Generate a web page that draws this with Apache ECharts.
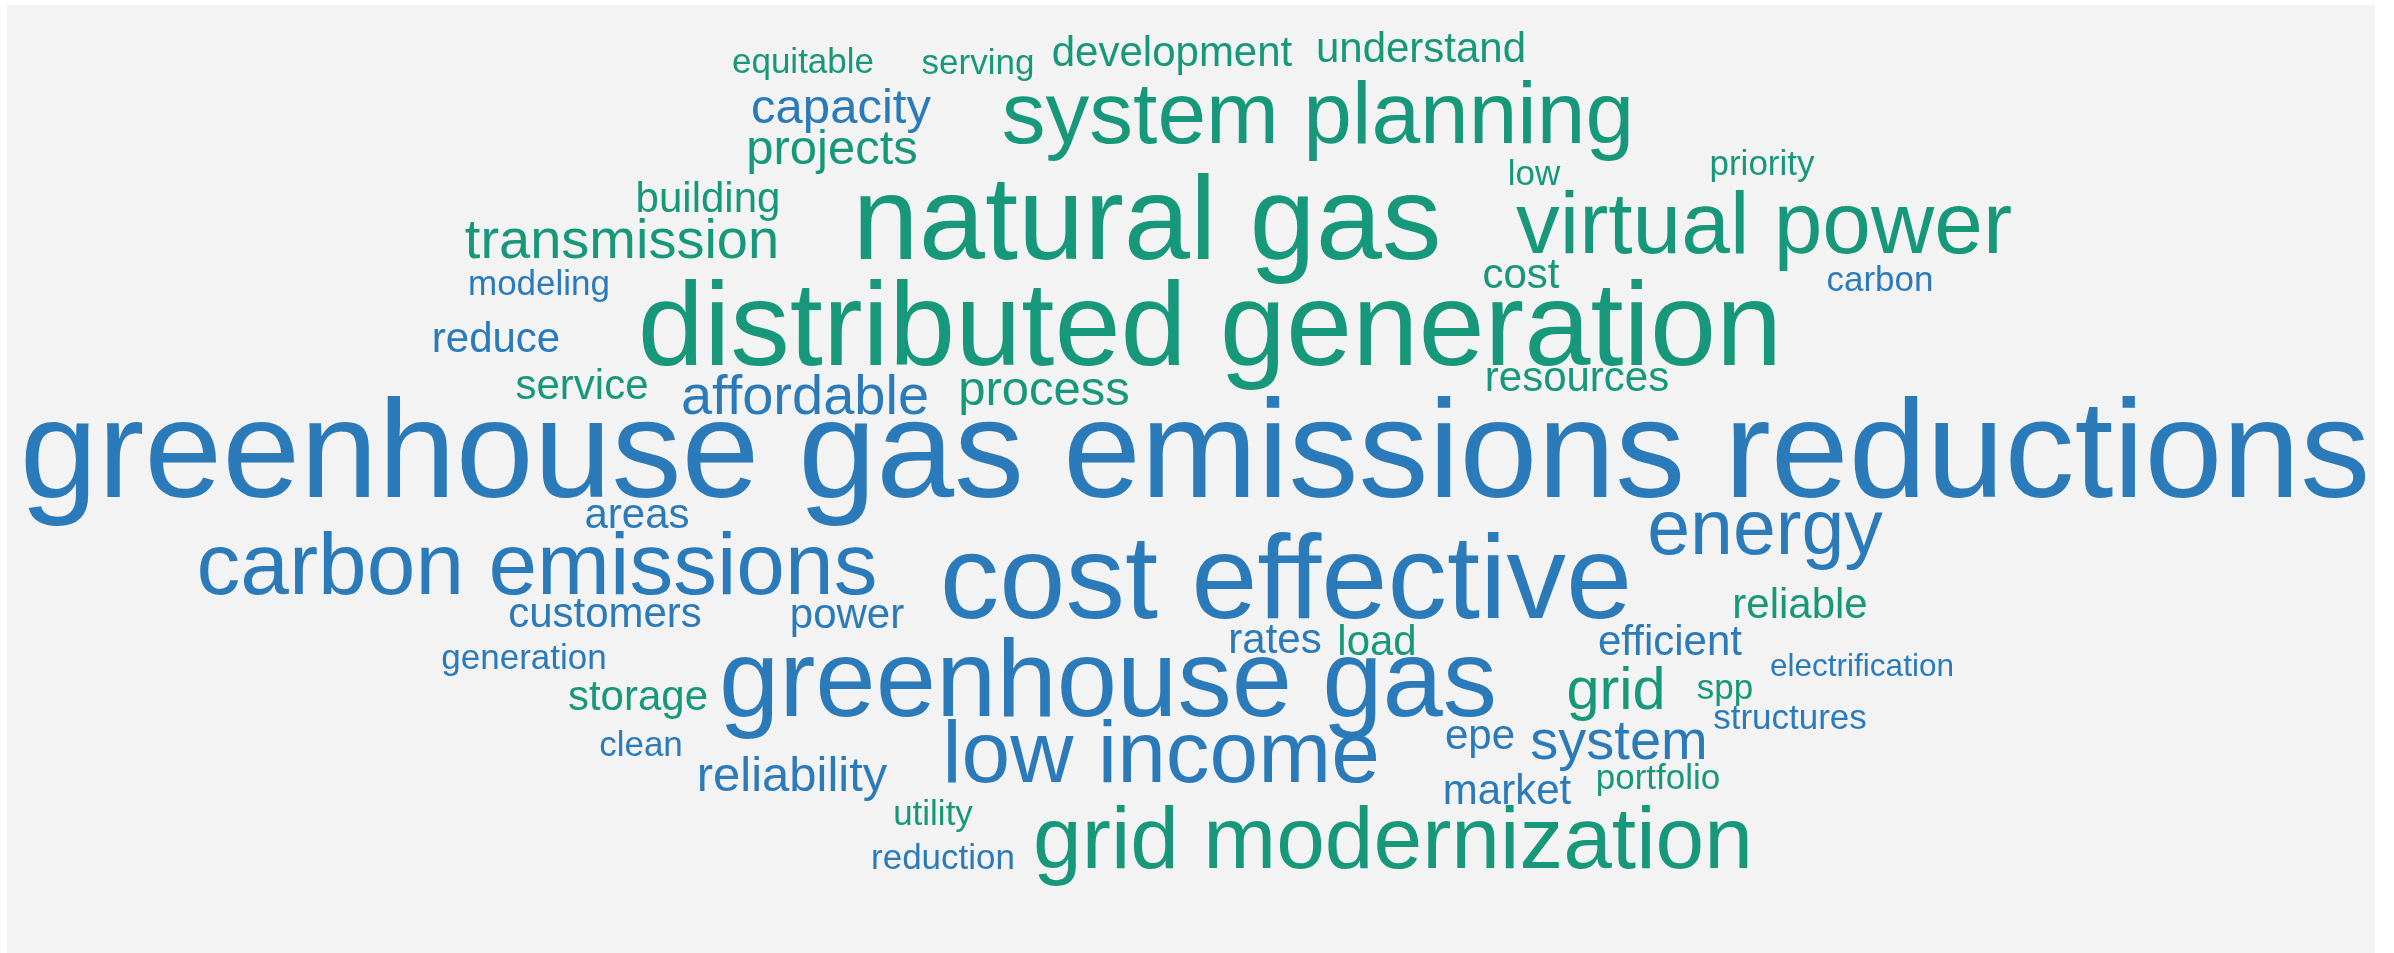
<!DOCTYPE html>
<html>
<head>
<meta charset="utf-8">
<script src="https://cdn.jsdelivr.net/npm/echarts@6/dist/echarts.min.js"></script>
<style>
  html, body { margin: 0; padding: 0; background: #fff; }
  #cloud { width: 2394px; height: 953px; }
</style>
</head>
<body>
<div id="cloud"></div>
<script>
// word cloud terms, their relative frequency and the layout position (x, baseline y)
var words = [
    'equitable', 'serving', 'development', 'understand', 'capacity',
    'projects', 'system planning', 'natural gas', 'low', 'priority',
    'building', 'transmission', 'virtual power', 'modeling', 'cost',
    'carbon', 'distributed generation', 'reduce', 'service', 'affordable',
    'process', 'resources', 'greenhouse gas emissions reductions', 'areas', 'carbon emissions',
    'cost effective', 'energy', 'customers', 'power', 'reliable',
    'rates', 'load', 'efficient', 'generation', 'electrification',
    'greenhouse gas', 'storage', 'grid', 'spp', 'structures',
    'clean', 'epe', 'system', 'low income', 'reliability',
    'market', 'portfolio', 'utility', 'reduction', 'grid modernization'
];
var counts = [
    10, 10, 12, 12, 14,
    14, 25, 34, 10, 10,
    12, 16, 25, 10, 12,
    10, 34, 12, 12, 16,
    14, 12, 40, 12, 25,
    34, 22, 12, 12, 12,
    12, 12, 12, 10, 9,
    31, 12, 17, 10, 10,
    10, 12, 16, 25, 14,
    12, 10, 10, 10, 25
];
var xs = [
    803, 978, 1172, 1421, 841,
    832, 1318, 1147, 1534, 1762,
    708, 622, 1764, 539, 1521,
    1880, 1210, 496, 582, 805,
    1044, 1577, 1195, 637, 537,
    1286, 1765, 605, 847, 1800,
    1275, 1377, 1670, 524, 1862,
    1108, 638, 1616, 1725, 1790,
    641, 1480, 1619, 1161, 792,
    1507, 1658, 933, 943, 1393
];
var ys = [
    72, 73, 65, 61, 122,
    163, 142, 257, 184, 174,
    211, 257, 252, 294, 287,
    290, 363, 351, 398, 413,
    404, 390, 495, 527, 593,
    616, 553, 626, 627, 617,
    652, 654, 654, 668, 676,
    714, 709, 708, 698, 728,
    755, 748, 758, 781, 790,
    803, 788, 824, 868, 867
];
// 0 = blue group, 1 = green group
var groups = [
    1, 1, 1, 1, 0,
    1, 1, 1, 1, 1,
    1, 1, 1, 0, 1,
    0, 1, 0, 1, 0,
    1, 1, 0, 0, 0,
    0, 0, 0, 0, 1,
    0, 1, 0, 0, 0,
    0, 1, 1, 1, 0,
    0, 0, 0, 0, 0,
    0, 1, 1, 0, 1
];

var colors = ['#2b7bba', '#17987a'];
var sizePerCount = 3.5;

var data = words.map(function (w, i) {
    var fs = counts[i] * sizePerCount;
    return {
        name: w,
        value: [xs[i], ys[i], counts[i]],
        label: {
            fontSize: fs,
            color: colors[groups[i]],
            offset: [0, -0.26 * fs]
        }
    };
});

var chart = echarts.init(document.getElementById('cloud'));

chart.setOption({
    backgroundColor: '#ffffff',
    animation: false,
    grid: {
        left: 7,
        right: 19,
        top: 5,
        bottom: 0,
        show: true,
        borderWidth: 0,
        backgroundColor: '#f3f3f3'
    },
    xAxis: {
        type: 'value',
        min: 7,
        max: 2375,
        show: false
    },
    yAxis: {
        type: 'value',
        min: 5,
        max: 953,
        inverse: true,
        show: false
    },
    series: [{
        type: 'scatter',
        symbolSize: 0,
        silent: true,
        itemStyle: { opacity: 1 },
        label: {
            show: true,
            position: 'inside',
            align: 'center',
            verticalAlign: 'middle',
            opacity: 1,
            fontFamily: '"Liberation Sans", Arial, sans-serif',
            formatter: function (p) { return p.name; }
        },
        data: data
    }]
});

window.onresize = chart.resize;
</script>
</body>
</html>
